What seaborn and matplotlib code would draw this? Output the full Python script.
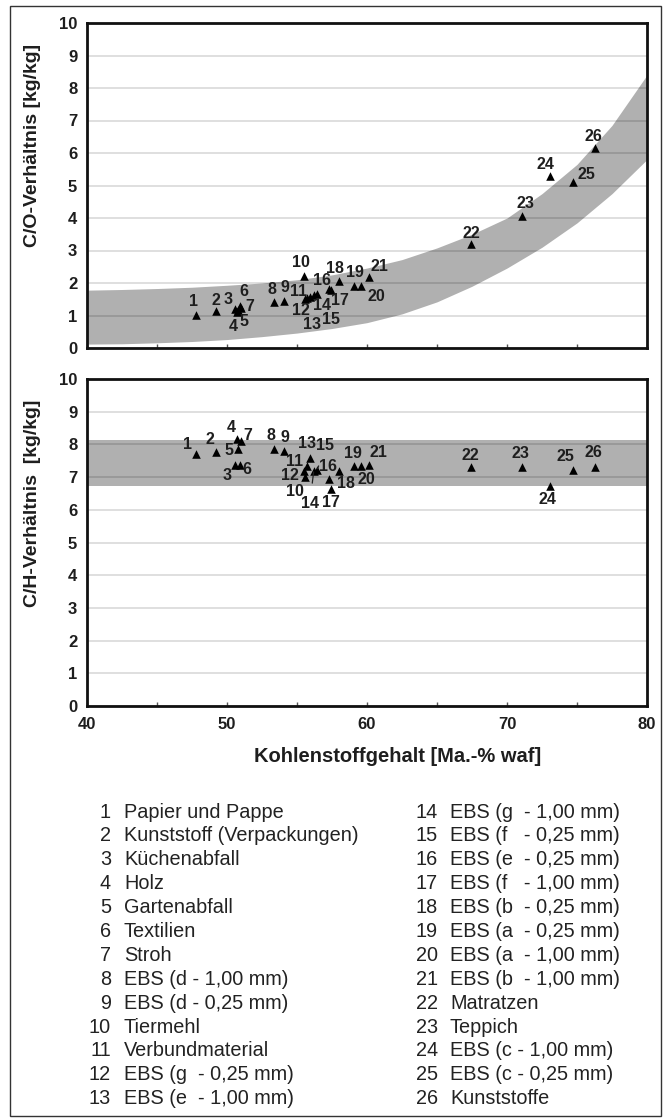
import matplotlib
matplotlib.use("Agg")
import matplotlib.pyplot as plt
from matplotlib.patches import Rectangle
import seaborn as sns
import pandas as pd

# ---------------- data ----------------
sample_ids = list(range(1, 27))
carbon = [47.8, 49.2, 50.6, 50.7, 50.8, 50.9, 51.0, 53.35, 54.05, 55.5,
          55.7, 55.6, 55.95, 56.2, 56.45, 57.25, 57.45, 58.0, 59.05, 59.6,
          60.15, 67.45, 71.05, 73.1, 74.7, 76.25]
co_ratio = [1.03, 1.13, 1.20, 1.12, 1.17, 1.30, 1.22, 1.42, 1.46, 2.23,
            1.54, 1.50, 1.58, 1.62, 1.66, 1.83, 1.80, 2.05, 1.92, 1.92,
            2.18, 3.20, 4.07, 5.28, 5.10, 6.15]
ch_ratio = [7.71, 7.78, 7.37, 8.18, 7.87, 7.38, 8.09, 7.85, 7.79, 7.20,
            7.33, 6.99, 7.59, 7.20, 7.22, 6.94, 6.63, 7.20, 7.35, 7.35,
            7.38, 7.30, 7.30, 6.73, 7.23, 7.32]

band_x = [40, 42.5, 45, 47.5, 50, 52.5, 55, 57.5, 60, 62.5, 65, 67.5, 70,
          72.5, 75, 77.5, 80]
co_band_upper = [1.78, 1.80, 1.83, 1.87, 1.93, 2.00, 2.10, 2.25, 2.46, 2.72,
                 3.08, 3.50, 4.00, 4.75, 5.65, 6.85, 8.40]
co_band_lower = [0.12, 0.13, 0.16, 0.20, 0.26, 0.35, 0.46, 0.60, 0.78, 1.05,
                 1.42, 1.90, 2.46, 3.10, 3.85, 4.75, 5.80]
ch_band_lower = 6.73
ch_band_upper = 8.12

legend_names = [
    "Papier und Pappe", "Kunststoff (Verpackungen)", "Küchenabfall", "Holz",
    "Gartenabfall", "Textilien", "Stroh", "EBS (d - 1,00 mm)",
    "EBS (d - 0,25 mm)", "Tiermehl", "Verbundmaterial", "EBS (g  - 0,25 mm)",
    "EBS (e  - 1,00 mm)", "EBS (g  - 1,00 mm)", "EBS (f   - 0,25 mm)",
    "EBS (e  - 0,25 mm)", "EBS (f   - 1,00 mm)", "EBS (b  - 0,25 mm)",
    "EBS (a  - 0,25 mm)", "EBS (a  - 1,00 mm)", "EBS (b  - 1,00 mm)",
    "Matratzen", "Teppich", "EBS (c - 1,00 mm)", "EBS (c - 0,25 mm)",
    "Kunststoffe"]

y_ticks = list(range(0, 11))
x_ticks = [40, 50, 60, 70, 80]

# label offsets (pixels) -- layout only
off_top = [(-3, 13), (0, 11), (-7, 10), (-4, -15), (6, -12), (4, 14), (9, 2),
           (-2, 12), (1, 13), (-3, 13), (-8, 6), (-4, -11), (2, -28), (8, -10),
           (14, -25), (-6, 8), (9, -11), (-4, 13), (1, 13), (15, -11), (10, 11),
           (0, 11), (4, 12), (-5, 12), (14, 8), (-1, 12)]
off_bot = [(-9, 9), (-6, 12), (-8, -10), (-6, 11), (-9, -2), (7, -5), (7, 6),
           (-3, 14), (1, 14), (-9, -21), (-12, 5), (-15, 2), (-3, 14), (-4, -33),
           (8, 24), (0, 13), (0, -13), (7, -13), (-1, 12), (5, -14), (9, 12),
           (-1, 12), (-1, 14), (-3, -14), (-7, 13), (-1, 14)]
lined_bot = {14, 15}

df = pd.DataFrame({"id": sample_ids, "C": carbon, "CO": co_ratio, "CH": ch_ratio})

# ---------------- figure ----------------
sns.set_theme(style="white")
plt.rcParams["font.family"] = ["Liberation Sans", "DejaVu Sans"]

W, H = 665, 1118
fig = plt.figure(figsize=(W / 100, H / 100), dpi=100)


def ax_rect(l, t, r, b):
    return [l / W, 1 - b / H, (r - l) / W, (b - t) / H]


ax1 = fig.add_axes(ax_rect(87, 23, 647, 348))
ax2 = fig.add_axes(ax_rect(87, 379, 647, 706))

BAND = "#b0b0b0"
TXT = "#1e1e1e"
ax1.fill_between(band_x, co_band_lower, co_band_upper, color=BAND, lw=0, zorder=1)
ax2.fill_between([40, 80], [ch_band_lower] * 2, [ch_band_upper] * 2,
                 color=BAND, lw=0, zorder=1)

sns.scatterplot(data=df, x="C", y="CO", ax=ax1, marker="^", color="black",
                s=38, linewidth=0, zorder=3, legend=False)
sns.scatterplot(data=df, x="C", y="CH", ax=ax2, marker="^", color="black",
                s=38, linewidth=0, zorder=3, legend=False)

lab_kw = dict(textcoords="offset pixels", ha="center", va="center",
              fontsize=11.5, fontweight="bold", color=TXT, zorder=4)
for i, sid in enumerate(sample_ids):
    ax1.annotate(str(sid), (carbon[i], co_ratio[i]), xytext=off_top[i], **lab_kw)
    if sid in lined_bot:
        ax2.annotate(str(sid), (carbon[i], ch_ratio[i]), xytext=off_bot[i],
                     arrowprops=dict(arrowstyle="-", color="#222222", lw=0.9,
                                     shrinkA=7, shrinkB=1), **lab_kw)
    else:
        ax2.annotate(str(sid), (carbon[i], ch_ratio[i]), xytext=off_bot[i], **lab_kw)

for ax, ylab, ycen in [(ax1, "C/O-Verhältnis [kg/kg]", 145),
                       (ax2, "C/H-Verhältnis  [kg/kg]", 503)]:
    ax.set_xlim(40, 80)
    ax.set_ylim(0, 10)
    ax.set_yticks(y_ticks)
    ax.set_yticklabels([str(v) for v in y_ticks], fontsize=12, fontweight="bold")
    ax.set_xticks(x_ticks)
    ax.set_xticks([45, 55, 65, 75], minor=True)
    ax.tick_params(axis="y", length=0, pad=7, labelcolor=TXT)
    ax.tick_params(axis="x", which="both", direction="in", length=3,
                   width=1, color="#555555", bottom=True)
    ax.set_axisbelow("line")
    ax.yaxis.grid(True, color="black", alpha=0.16, lw=1.1)
    ax.xaxis.grid(False)
    for sp in ax.spines.values():
        sp.set_visible(True)
        sp.set_color("#111111")
        sp.set_linewidth(2)
    ax.set_xlabel("")
    ax.set_ylabel(ylab, fontsize=14, fontweight="bold", color=TXT)
    ax.yaxis.label.set_va("center")
    bb = ax.get_position()
    ax.yaxis.set_label_coords(
        (33 / W - bb.x0) / bb.width, ((1 - ycen / H) - bb.y0) / bb.height,
        transform=ax.transAxes)

ax1.set_xticklabels([])
ax2.set_xticklabels([str(v) for v in x_ticks], fontsize=12, fontweight="bold")
ax2.tick_params(axis="x", which="major", pad=8, labelcolor=TXT)
ax2.set_xlabel("Kohlenstoffgehalt [Ma.-% waf]", fontsize=14.5,
               fontweight="bold", color=TXT)
bb2 = ax2.get_position()
ax2.xaxis.set_label_coords((398 / W - bb2.x0) / bb2.width,
                           ((1 - 757 / H) - bb2.y0) / bb2.height,
                           transform=ax2.transAxes)
ax2.xaxis.label.set_va("center")

# ---------------- legend text ----------------
leg_fs = 14.3
y0, dy = 812, 23.9
for i, (sid, name) in enumerate(zip(sample_ids, legend_names)):
    col = 0 if i < 13 else 1
    row = i if i < 13 else i - 13
    ypx = y0 + row * dy
    num_r = 111 if col == 0 else 438
    txt_l = 124 if col == 0 else 450
    fig.text(num_r / W, 1 - ypx / H, str(sid), ha="right", va="center",
             fontsize=leg_fs, color="#222222")
    fig.text(txt_l / W, 1 - ypx / H, name, ha="left", va="center",
             fontsize=leg_fs, color="#222222")

# outer frame
fig.add_artist(Rectangle((10 / W, 2 / H), (661 - 10) / W, (1110) / H,
                         transform=fig.transFigure, fill=False,
                         edgecolor="#333333", lw=1.0))

fig.savefig("out.png", dpi=100, facecolor="white")
